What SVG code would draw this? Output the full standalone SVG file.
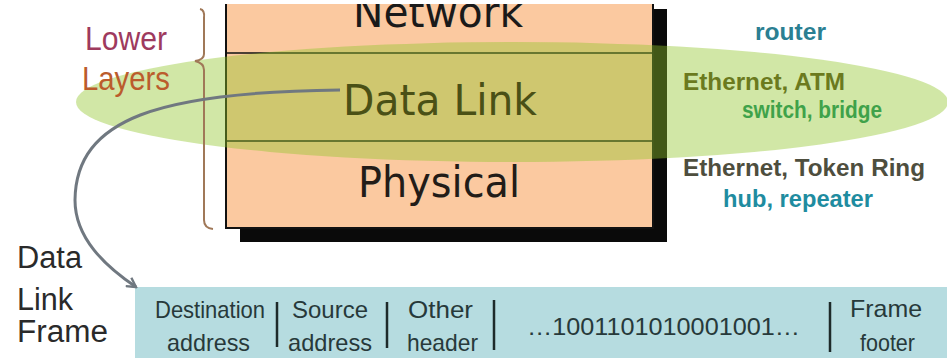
<svg xmlns="http://www.w3.org/2000/svg" width="947" height="358" viewBox="0 0 947 358">
<defs>
<style>
.layer{font-family:"DejaVu Sans",Verdana,sans-serif;font-size:43px}
.side{font-family:"Liberation Sans",Arial,sans-serif;font-size:34px}
.dev{font-family:"Liberation Sans",Arial,sans-serif;font-size:23px;font-weight:bold}
.lbl{font-family:"Liberation Sans",Arial,sans-serif;font-size:31px;fill:#2a2a2a}
.fld{font-family:"Liberation Sans",Arial,sans-serif;font-size:24px;fill:#27393a}
.sep{stroke:#1e2a2a;stroke-width:2.5}
.div{stroke:#111;stroke-width:1.6}
</style>
<clipPath id="topcut"><rect x="0" y="4" width="947" height="354"/></clipPath>
<marker id="arr" viewBox="0 0 12 12" refX="10" refY="6" markerWidth="12" markerHeight="12" markerUnits="userSpaceOnUse" orient="auto">
<polyline points="1,1 10,6 1,11" fill="none" stroke="#707880" stroke-width="2.4"/>
</marker>
</defs>
<rect width="947" height="358" fill="#ffffff"/>

<g id="stack" clip-path="url(#topcut)">
<rect x="240" y="9" width="427" height="233" fill="#0a0a0a"/>
<rect x="226" y="-5" width="427" height="233" fill="#fbc9a0" stroke="#111" stroke-width="2"/>
<line class="div" x1="226" y1="53" x2="653" y2="53"/>
<line class="div" x1="226" y1="141" x2="653" y2="141"/>
<g id="network"><text class="layer" x="353" y="27" fill="#1a1a1a" textLength="170" lengthAdjust="spacingAndGlyphs">Network</text></g>
<g id="physical"><text class="layer" x="358" y="197" fill="#221c18" textLength="162" lengthAdjust="spacingAndGlyphs">Physical</text></g>
</g>

<ellipse id="highlight" cx="512" cy="102" rx="436" ry="60" fill="#92c62a" fill-opacity="0.42"/>

<g id="datalink"><text class="layer" x="343" y="115" fill="#4a5016" textLength="194" lengthAdjust="spacingAndGlyphs">Data Link</text></g>

<g id="lower-layers">
<path d="M200 9 Q205 10 204 18 L204 54 Q204 60 195 61 Q204 63 204 70 L204 220 Q204 228 213 229" fill="none" stroke="#a07858" stroke-width="2"/>
<text class="side" x="85" y="50" fill="#9e3a5e" textLength="82" lengthAdjust="spacingAndGlyphs">Lower</text>
<text class="side" x="82" y="90" fill="#bb5c2c" textLength="88" lengthAdjust="spacingAndGlyphs">Layers</text>
</g>

<g id="devices">
<text class="dev" x="755" y="40" fill="#2b7f92" textLength="71" lengthAdjust="spacingAndGlyphs">router</text>
<text class="dev" x="683" y="90" fill="#6b7a1e" textLength="162" lengthAdjust="spacingAndGlyphs">Ethernet, ATM</text>
<text class="dev" x="742" y="118" fill="#3fa24a" textLength="140" lengthAdjust="spacingAndGlyphs">switch, bridge</text>
<text class="dev" x="683" y="176" fill="#4e4e3e" textLength="242" lengthAdjust="spacingAndGlyphs">Ethernet, Token Ring</text>
<text class="dev" x="723" y="207" fill="#1f8ca0" textLength="150" lengthAdjust="spacingAndGlyphs">hub, repeater</text>
</g>

<g id="frame-label">
<text class="lbl" x="17" y="268" textLength="65" lengthAdjust="spacingAndGlyphs">Data</text>
<text class="lbl" x="17" y="310" textLength="56" lengthAdjust="spacingAndGlyphs">Link</text>
<text class="lbl" x="17" y="342" textLength="91" lengthAdjust="spacingAndGlyphs">Frame</text>
</g>

<g id="frame">
<rect x="135" y="287" width="812" height="71" fill="#b6dce0"/>
<text class="fld" x="155" y="318" textLength="110" lengthAdjust="spacingAndGlyphs">Destination</text>
<text class="fld" x="167" y="351" textLength="83" lengthAdjust="spacingAndGlyphs">address</text>
<line class="sep" x1="277" y1="302" x2="277" y2="347"/>
<text class="fld" x="292" y="318" textLength="76" lengthAdjust="spacingAndGlyphs">Source</text>
<text class="fld" x="288" y="351" textLength="84" lengthAdjust="spacingAndGlyphs">address</text>
<line class="sep" x1="387" y1="302" x2="387" y2="348"/>
<text class="fld" x="408" y="318" textLength="65" lengthAdjust="spacingAndGlyphs">Other</text>
<text class="fld" x="407" y="351" textLength="71" lengthAdjust="spacingAndGlyphs">header</text>
<line class="sep" x1="494" y1="300" x2="494" y2="350"/>
<text class="fld" x="527" y="335" textLength="273" lengthAdjust="spacingAndGlyphs">…1001101010001001…</text>
<line class="sep" x1="830" y1="302" x2="830" y2="352"/>
<text class="fld" x="850" y="317" textLength="72" lengthAdjust="spacingAndGlyphs">Frame</text>
<text class="fld" x="860" y="351" textLength="55" lengthAdjust="spacingAndGlyphs">footer</text>
</g>

<g id="connectors">
<path d="M340 90 C 160 92, 76 118, 75 200 C 75 238, 105 266, 136 287" fill="none" stroke="#707880" stroke-width="3" marker-end="url(#arr)"/>
</g>
</svg>
